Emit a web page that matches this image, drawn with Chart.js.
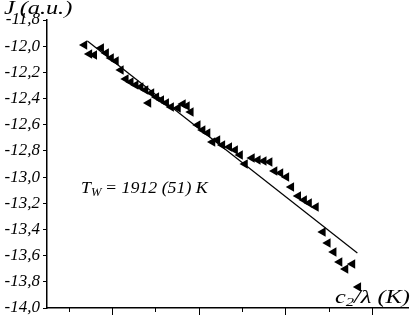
<!DOCTYPE html>
<html>
<head>
<meta charset="utf-8">
<script src="https://cdn.jsdelivr.net/npm/chart.js@4/dist/chart.umd.min.js"></script>
<style>
  html, body { margin: 0; padding: 0; background: #fff; }
  #wrap { width: 414px; height: 315px; position: relative; }
</style>
</head>
<body>
<div id="wrap"><canvas id="c"></canvas></div>
<script>
// c2/lambda (K)
const xValues = [15682,15739,15795,15875,15932,15989,16045,16102,16159,16216,16273,16330,16386,16420,16455,16511,16568,16625,16682,16761,16818,16864,16909,16989,17045,17102,17159,17216,17273,17352,17420,17477,17534,17614,17682,17750,17818,17875,17943,18011,18068,18148,18216,18273,18352,18432,18489,18557,18625,18693,18773,18841];
// J (a.u.)
const yValues = [-11.991,-12.060,-12.067,-12.014,-12.052,-12.090,-12.113,-12.182,-12.251,-12.274,-12.297,-12.312,-12.335,-12.434,-12.358,-12.388,-12.411,-12.434,-12.465,-12.472,-12.442,-12.457,-12.503,-12.602,-12.640,-12.663,-12.732,-12.717,-12.755,-12.770,-12.793,-12.831,-12.900,-12.854,-12.870,-12.877,-12.885,-12.954,-12.969,-12.999,-13.076,-13.145,-13.175,-13.198,-13.229,-13.420,-13.504,-13.572,-13.649,-13.702,-13.664,-13.840];
// fitted line endpoints
const fitX = [15716, 18830];
const fitY = [-11.960, -13.580];
// x tick positions (K)
const xTicks = [15500,16000,16500,17000,17500,18000,18500,19000];
const yTickMin = -14.0, yTickMax = -11.8, yTickStep = 0.2;

const SERIF = "'Liberation Serif', 'DejaVu Serif', serif";

function drawStretched(ctx, parts, x, y, sx) {
  ctx.save();
  ctx.translate(x, y);
  ctx.scale(sx, 1);
  let cx = 0;
  parts.forEach(([t, size, dy]) => {
    ctx.font = 'italic ' + size + 'px ' + SERIF;
    ctx.fillText(t, cx, dy);
    cx += ctx.measureText(t).width;
  });
  ctx.restore();
}

const textPlugin = {
  id: 'texts',
  afterDraw(chart) {
    const ctx = chart.ctx;
    const xs = chart.scales.x;
    const ys = chart.scales.y;
    ctx.save();
    ctx.fillStyle = '#000';
    ctx.strokeStyle = '#000';
    ctx.lineWidth = 1;
    xTicks.forEach(v => {
      const px = Math.round(xs.getPixelForValue(v)) + 0.5;
      const major = (v % 1000) === 0;
      ctx.beginPath();
      ctx.moveTo(px, ys.bottom);
      ctx.lineTo(px, ys.bottom + (major ? 7 : 4));
      ctx.stroke();
    });
    ctx.textBaseline = 'alphabetic';
    drawStretched(ctx, [['J', 18, 0], ['\u2009(a.u.)', 18, 0]], 4, 14, 1.35);
    drawStretched(ctx, [['T', 17, 0], ['W', 12, 3], ['\u2009= 1912 (51) K', 17, 0]], 81, 193, 1.05);
    drawStretched(ctx, [['c', 19, 0], ['2', 13, 3], ['/\u03BB (K)', 19, 0]], 335, 303, 1.28);
    ctx.restore();
  }
};

new Chart(document.getElementById('c'), {
  type: 'scatter',
  data: {
    datasets: [
      {
        type: 'line',
        data: fitX.map((v, i) => ({ x: v, y: fitY[i] })),
        borderColor: '#000',
        borderWidth: 1.2,
        pointRadius: 0,
        fill: false,
        order: 2
      },
      {
        data: xValues.map((v, i) => ({ x: v, y: yValues[i] })),
        pointStyle: 'triangle',
        rotation: -90,
        pointRadius: 5.5,
        backgroundColor: '#000',
        borderColor: '#000',
        borderWidth: 0,
        order: 1
      }
    ]
  },
  options: {
    responsive: true,
    maintainAspectRatio: false,
    animation: false,
    devicePixelRatio: 1,
    layout: { padding: { top: 20, left: 0, right: 0, bottom: 0 } },
    plugins: { legend: { display: false }, tooltip: { enabled: false } },
    scales: {
      x: {
        type: 'linear',
        min: 15250,
        max: 19420,
        ticks: { display: false },
        grid: { display: false },
        border: { display: true, color: '#000', width: 1.5 },
        afterFit(scale) { scale.height = 7; scale.paddingLeft = 0; scale.paddingRight = 0; }
      },
      y: {
        type: 'linear',
        min: yTickMin,
        max: yTickMax,
        ticks: {
          stepSize: yTickStep,
          color: '#000',
          padding: 3,
          font: { family: SERIF, size: 17, style: 'italic' },
          callback: v => v.toFixed(1).replace('.', ',')
        },
        grid: { drawOnChartArea: false, tickLength: 4, color: '#000', tickColor: '#000' },
        border: { display: true, color: '#000', width: 1.5 },
        afterFit(scale) { scale.width = 47; scale.paddingTop = 0; scale.paddingBottom = 0; }
      }
    }
  },
  plugins: [textPlugin]
});
</script>
</body>
</html>
